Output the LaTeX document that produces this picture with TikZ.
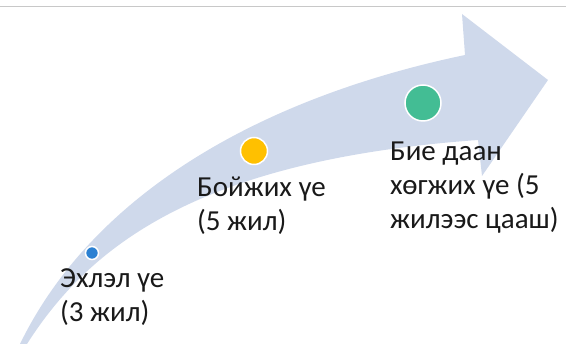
\documentclass[tikz,border=0pt]{standalone}
\usepackage{fontspec}
\setmainfont{Carlito}
\definecolor{arrowfill}{RGB}{207,217,235}
\definecolor{rulegray}{RGB}{200,200,200}
\definecolor{dotblue}{RGB}{43,128,210}
\definecolor{dotyellow}{RGB}{255,192,0}
\definecolor{dotgreen}{RGB}{67,189,148}
\definecolor{labeltext}{RGB}{25,25,25}
\begin{document}
\begin{tikzpicture}[x=1pt,y=-1pt,
  dot/.style={circle, draw=white, line width=1.5pt, inner sep=0pt},
  stagelabel/.style={anchor=base west, align=left, inner sep=0pt,
    font=\fontsize{29}{34}\selectfont, text=labeltext}]
\useasboundingbox (0,0) rectangle (566,344);
\clip (0,0) rectangle (566,344);
% thin rule along the top
\draw[rulegray, line width=1.5pt] (0,6.5) -- (566,6.5);
% curved upward arrow
\fill[arrowfill] (20,344) .. controls (90,200) and (250,100) .. (465,55)
  -- (462,14) -- (548,80) -- (482,176) -- (478,140)
  .. controls (200,160) and (90,245) .. (27,344) -- cycle;
% stage markers
\node[dot, fill=dotblue, minimum size=13pt] (d1) at (92,253) {};
\node[dot, fill=dotyellow, minimum size=27pt] (d2) at (254,151) {};
\node[dot, fill=dotgreen, minimum size=36pt] (d3) at (423,103) {};
% stage labels (anchored on the baseline of the last line)
\node[stagelabel] (l1) at (60,322) {Эхлэл үе\\(3 жил)};
\node[stagelabel] (l2) at (197,231) {Бойжих үе\\(5 жил)};
\node[stagelabel] (l3) at (390,229) {Бие даан\\хөгжих үе (5\\жилээс цааш)};
\end{tikzpicture}
\end{document}
